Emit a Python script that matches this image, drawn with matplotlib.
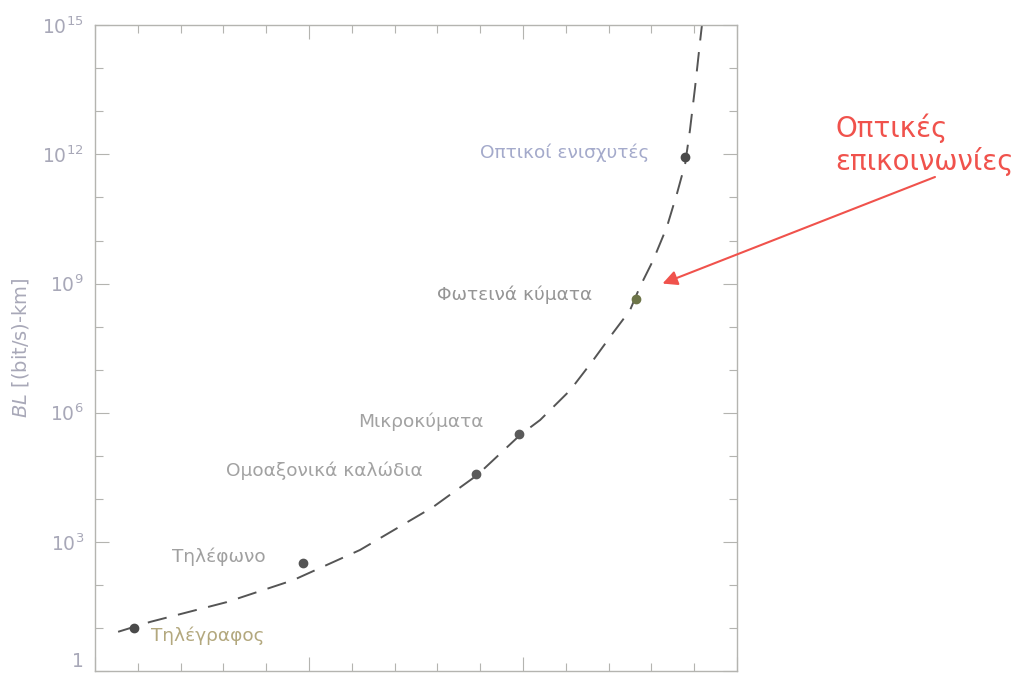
import numpy as np
import matplotlib
matplotlib.use("Agg")
import matplotlib.pyplot as plt
from matplotlib.ticker import FixedLocator, NullFormatter

# ── Data ───────────────────────────────────────────────────────
# milestone technologies: year of appearance and bit rate-distance product
tech_names = ["Τηλέγραφος", "Τηλέφωνο", "Ομοαξονικά καλώδια",
              "Μικροκύματα", "Φωτεινά κύματα", "Οπτικοί ενισχυτές"]
tech_years = [1859, 1898.5, 1939, 1949, 1976.5, 1987.8]
tech_bl = [1.0e1, 3.2e2, 3.7e4, 3.2e5, 4.4e8, 8.5e11]

# overall trend line (dashed)
trend_years = [1855.4, 1862.9, 1880.8, 1896.3, 1911.9, 1929.0, 1939.3, 1949.3,
               1954.0, 1961.0, 1966.4, 1971.0, 1975.0, 1977.3, 1980.4, 1983.6,
               1986.0, 1987.9, 1989.0, 1990.2, 1991.4, 1991.8]
trend_log_bl = [0.91, 1.14, 1.60, 2.11, 2.81, 3.81, 4.55, 5.48,
                5.83, 6.52, 7.22, 7.85, 8.38, 8.92, 9.54, 10.31,
                11.10, 11.79, 12.56, 13.56, 14.65, 15.0]
trend_bl = [10**v for v in trend_log_bl]

ytick_vals = [1, 1e3, 1e6, 1e9, 1e12, 1e15]
ytick_labels = ["1", r"$10^3$", r"$10^6$", r"$10^9$", r"$10^{12}$", r"$10^{15}$"]

# ── Style ──────────────────────────────────────────────────────
plt.rcParams.update({
    "font.family": ["DejaVu Sans"],
    "figure.facecolor": "white",
    "axes.facecolor": "white",
})

AXIS_GRAY = "#b4b4b0"
TICK_TEXT = "#a8a8b8"
LABEL_COLORS = ["#b3a87e", "#a0a0a0", "#a2a2a2", "#a2a2a2", "#959595", "#a4aacb"]
DOT_COLORS = ["#4a4a4a", "#555555", "#5a5a5a", "#5a5a5a", "#6d7548", "#4a4a4a"]
RED = "#f0524c"

fig = plt.figure(figsize=(10.36, 6.74), dpi=100)
ax = fig.add_axes([0.0917, 0.0045, 0.6197, 0.958])

ax.plot(trend_years, trend_bl, color="#555555", linewidth=1.4,
        dashes=(10, 6), zorder=2)
for yr, bl, c in zip(tech_years, tech_bl, DOT_COLORS):
    ax.plot(yr, bl, "o", color=c, markersize=6, zorder=3)

ax.set_yscale("log")
ax.set_xlim(1850, 2000)
ax.set_ylim(1, 1e15)

# decade minor ticks, labels every three decades
ax.yaxis.set_major_locator(FixedLocator(ytick_vals))
ax.yaxis.set_minor_locator(FixedLocator([10.0**k for k in range(16)]))
ax.set_yticklabels(ytick_labels, fontsize=13.5, color=TICK_TEXT)
ax.yaxis.set_minor_formatter(NullFormatter())
ax.get_yticklabels()[0].set_verticalalignment("bottom")

ax.xaxis.set_major_locator(FixedLocator([1850, 1900, 1950, 2000]))
ax.xaxis.set_minor_locator(FixedLocator(list(range(1850, 2001, 10))))
ax.set_xticklabels([])

ax.tick_params(which="both", direction="in", top=True, right=True,
               color=AXIS_GRAY, width=0.8, pad=8)
ax.tick_params(which="major", length=10)
ax.tick_params(which="minor", length=6)
for sp in ax.spines.values():
    sp.set_color(AXIS_GRAY)
    sp.set_linewidth(1.0)

ax.set_ylabel(r"$BL$ [(bit/s)-km]", fontsize=14, color=TICK_TEXT, labelpad=8)

# technology labels
label_pos = [(1863, 6.5), (1868, 4.4e2), (1880.6, 4.6e4), (1911.4, 6.0e5),
             (1929.9, 5.4e8), (1940, 1.1e12)]
for name, (lx, ly), c in zip(tech_names, label_pos, LABEL_COLORS):
    ax.text(lx, ly, name, fontsize=13.3, color=c, ha="left", va="center")

# highlighted annotation for optical communications
fig.text(0.806, 0.785, "Οπτικές\nεπικοινωνίες", fontsize=20, color=RED,
         ha="left", va="center", linespacing=1.15)
ax.annotate("", xy=(1982.6, 1.0e9), xycoords="data",
            xytext=(0.9025, 0.7374), textcoords="figure fraction",
            arrowprops=dict(arrowstyle="-|>", color=RED, lw=1.5,
                            mutation_scale=22, shrinkA=0, shrinkB=0),
            annotation_clip=False)

fig.savefig("out.png", dpi=100, facecolor="white")
